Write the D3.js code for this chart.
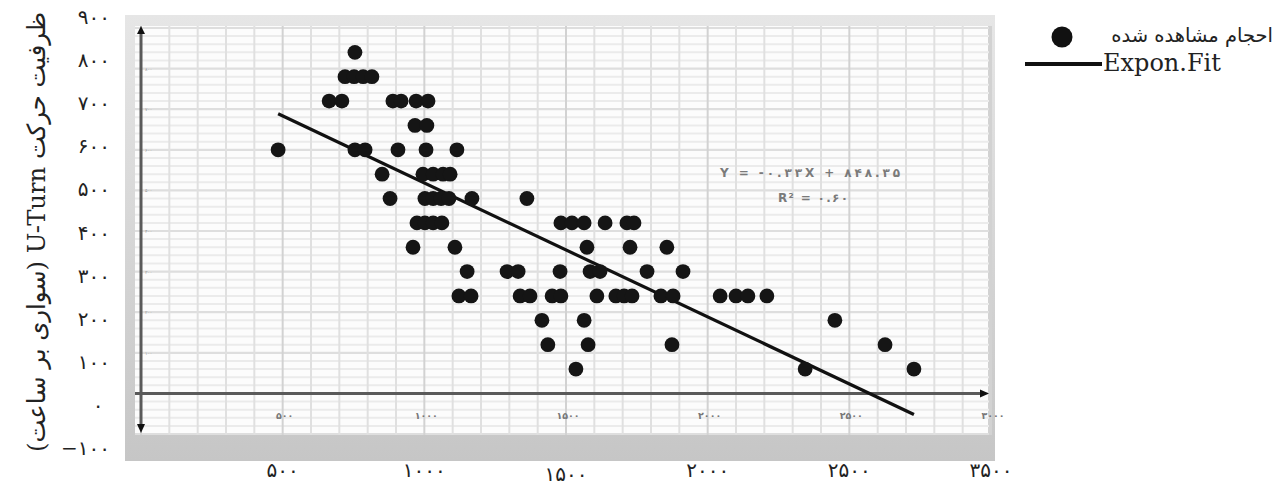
<!DOCTYPE html>
<html><head><meta charset="utf-8">
<script src="https://cdn.jsdelivr.net/npm/d3@7"></script>
<style>body{margin:0;background:#fff;} svg{display:block}</style>
</head><body><svg id="c" width="1280" height="489"></svg>
<script>
// ---- data ----
const volume = [
  755,
  720, 752, 784, 815,
  664, 709, 889, 918, 971, 1013,
  967, 1009,
  484, 755, 791, 907, 1006, 1115,
  851, 995, 1031, 1066, 1091,
  879, 1002, 1031, 1059, 1087, 1168, 1362,
  974, 1002, 1031, 1062, 1482, 1521, 1564, 1638, 1715, 1740,
  960, 1108, 1574, 1726, 1856,
  1151, 1292, 1331, 1479, 1585, 1620, 1786, 1913,
  1122, 1165, 1338, 1373, 1451, 1482, 1609, 1676, 1705, 1733, 1835, 1878, 2044, 2100, 2142, 2209,
  1415, 1564, 2449,
  1436, 1578, 1874, 2626,
  1535, 2344, 2728
];
const capacity = [
  840,
  780, 780, 780, 780,
  720, 720, 720, 720, 720, 720,
  660, 660,
  600, 600, 600, 600, 600, 600,
  540, 540, 540, 540, 540,
  480, 480, 480, 480, 480, 480, 480,
  420, 420, 420, 420, 420, 420, 420, 420, 420, 420,
  360, 360, 360, 360, 360,
  300, 300, 300, 300, 300, 300, 300, 300,
  240, 240, 240, 240, 240, 240, 240, 240, 240, 240, 240, 240, 240, 240, 240, 240,
  180, 180, 180,
  120, 120, 120, 120,
  60, 60, 60
];
const fitSlope = -0.33;
const fitIntercept = 848.35;
const equationText = "Y = -۰.۳۳X + ۸۴۸.۳۵";
const r2Text = "R² = ۰.۶۰";
const innerXTicks = [500, 1000, 1500, 2000, 2500, 3000];
const innerYTicks = [100, 200, 300, 400, 500, 600, 700, 800];
const outerXTickValues = [500, 1000, 1500, 2000, 2500, 3000];
const outerXTickLabels = ["۵۰۰", "۱۰۰۰", "۱۵۰۰", "۲۰۰۰", "۲۵۰۰", "۳۵۰۰"];
const outerYTickValues = [900, 800, 700, 600, 500, 400, 300, 200, 100, 0, -100];
const yTitle = "ظرفیت حرکت U-Turn (سواری بر ساعت)";
const legendLabels = ["احجام مشاهده شده", "Expon.Fit"];

const fa = s => String(s).replace(/\d/g, d => "۰۱۲۳۴۵۶۷۸۹"[d]).replace("-", "−");

// ---- scales ----
const x = d3.scaleLinear().domain([0, 3000]).range([141, 991]);
const y = d3.scaleLinear().domain([-100, 900]).range([434, 28]);
const yOuter = d3.scaleLinear().domain([-100, 900]).range([448, 17]);

const svg = d3.select("#c");
const defs = svg.append("defs");
const g1 = defs.append("linearGradient").attr("id", "pg").attr("x1", 0).attr("y1", 0).attr("x2", 0).attr("y2", 1);
g1.append("stop").attr("offset", "0%").attr("stop-color", "#e6e6e6");
g1.append("stop").attr("offset", "100%").attr("stop-color", "#c6c6c6");

// panel
svg.append("rect").attr("x", 125).attr("y", 15).attr("width", 870).attr("height", 446).attr("fill", "url(#pg)");
svg.append("rect").attr("x", 135).attr("y", 26).attr("width", 854).attr("height", 409).attr("fill", "#fcfcfc");
svg.append("rect").attr("x", 988).attr("y", 26).attr("width", 4).attr("height", 409).attr("fill", "#d2d2d2");

const plot = svg.append("g");
// horizontal grid every 20
const hVals = d3.range(-100, 901, 20);
plot.selectAll("line.h").data(hVals).join("line")
  .attr("x1", 135).attr("x2", 989)
  .attr("y1", d => y(d)).attr("y2", d => y(d))
  .attr("stroke", d => d % 100 === 0 ? "#dedede" : "#ebebeb")
  .attr("stroke-width", d => d % 100 === 0 ? 2.2 : 2);
// vertical grid every 100
const vVals = d3.range(0, 3001, 100);
plot.selectAll("line.v").data(vVals).join("line")
  .attr("x1", d => x(d)).attr("x2", d => x(d))
  .attr("y1", 26).attr("y2", 435)
  .attr("stroke", d => d % 500 === 0 ? "#d2d2d2" : "#e0e0e0")
  .attr("stroke-width", 2);

// inner axes
plot.append("line").attr("x1", 135).attr("x2", 983).attr("y1", y(0)).attr("y2", y(0))
  .attr("stroke", "#5a5a5a").attr("stroke-width", 3);
plot.append("line").attr("x1", x(0)).attr("x2", x(0)).attr("y1", 32).attr("y2", 427)
  .attr("stroke", "#5a5a5a").attr("stroke-width", 3);
plot.append("path").attr("d", `M${x(0)-4},34 L${x(0)},26 L${x(0)+4},34 Z`).attr("fill", "#111");
plot.append("path").attr("d", `M${x(0)-4},424 L${x(0)},433 L${x(0)+4},424 Z`).attr("fill", "#111");
plot.append("path").attr("d", `M980,${y(0)-4} L989,${y(0)} L980,${y(0)+4} Z`).attr("fill", "#111");

// inner tick labels
plot.selectAll("text.ix").data(innerXTicks).join("text")
  .attr("x", d => x(d) + 2).attr("y", 419)
  .attr("text-anchor", "middle")
  .attr("font-family", "DejaVu Sans").attr("font-size", 9.5).attr("font-weight", "bold")
  .attr("fill", "#777").text(d => fa(d));
plot.selectAll("text.iy").data(innerYTicks).join("text")
  .attr("x", 145).attr("y", d => y(d) + 2)
  .attr("font-family", "DejaVu Sans").attr("font-size", 4.5)
  .attr("fill", "#999").text(d => fa(d));

// fit line
const [xmin, xmax] = d3.extent(volume);
plot.append("line")
  .attr("x1", x(xmin)).attr("y1", y(fitSlope * xmin + fitIntercept))
  .attr("x2", x(xmax)).attr("y2", y(fitSlope * xmax + fitIntercept))
  .attr("stroke", "#111").attr("stroke-width", 3.2);

// points
plot.selectAll("circle.pt").data(volume).join("circle")
  .attr("cx", d => x(d)).attr("cy", (d, i) => y(capacity[i]))
  .attr("r", 7.4).attr("fill", "#151515");

// equation
plot.append("text").attr("x", 720).attr("y", 177).attr("textLength", 180).attr("lengthAdjust", "spacing")
  .attr("font-family", "DejaVu Sans").attr("font-size", 12).attr("font-weight", "bold")
  .attr("fill", "#7a7a7a").text(equationText);
plot.append("text").attr("x", 778).attr("y", 202).attr("textLength", 70).attr("lengthAdjust", "spacing")
  .attr("font-family", "DejaVu Sans").attr("font-size", 12).attr("font-weight", "bold")
  .attr("fill", "#7a7a7a").text(r2Text);

// outer y tick labels
svg.selectAll("text.oy").data(outerYTickValues).join("text")
  .attr("x", d => d === 0 ? 98 : 110).attr("y", d => yOuter(d)).attr("dy", "0.35em")
  .attr("text-anchor", d => d === 0 ? "middle" : "end")
  .attr("font-family", "DejaVu Sans").attr("font-size", 20)
  .attr("fill", "#222").text(d => fa(d));

// outer x tick labels
svg.selectAll("text.ox").data(outerXTickValues).join("text")
  .attr("x", d => x(d)).attr("y", (d, i) => i === 2 ? 474 : 470).attr("dy", "0.35em")
  .attr("text-anchor", "middle")
  .attr("font-family", "DejaVu Sans").attr("font-size", 20)
  .attr("fill", "#222").text((d, i) => outerXTickLabels[i]);

// y title
svg.append("text").attr("transform", "translate(36,232) rotate(-90)")
  .attr("text-anchor", "middle").attr("dy", "0.35em")
  .style("direction", "rtl").style("unicode-bidi", "embed")
  .attr("textLength", 440).attr("lengthAdjust", "spacingAndGlyphs")
  .attr("font-family", "DejaVu Serif, DejaVu Sans").attr("font-size", 25)
  .attr("fill", "#222").text(yTitle);

// legend
svg.append("circle").attr("cx", 1062).attr("cy", 37).attr("r", 10.5).attr("fill", "#111");
svg.append("text").attr("x", 1273).attr("y", 35).attr("dy", "0.35em").attr("text-anchor", "end")
  .attr("font-family", "DejaVu Sans").attr("font-size", 19.5).attr("fill", "#222").text(legendLabels[0]);
svg.append("line").attr("x1", 1025).attr("x2", 1102).attr("y1", 64).attr("y2", 64)
  .attr("stroke", "#111").attr("stroke-width", 4);
svg.append("text").attr("x", 1103).attr("y", 71)
  .attr("font-family", "DejaVu Serif").attr("font-size", 24).attr("fill", "#222").text(legendLabels[1]);
</script></body></html>
